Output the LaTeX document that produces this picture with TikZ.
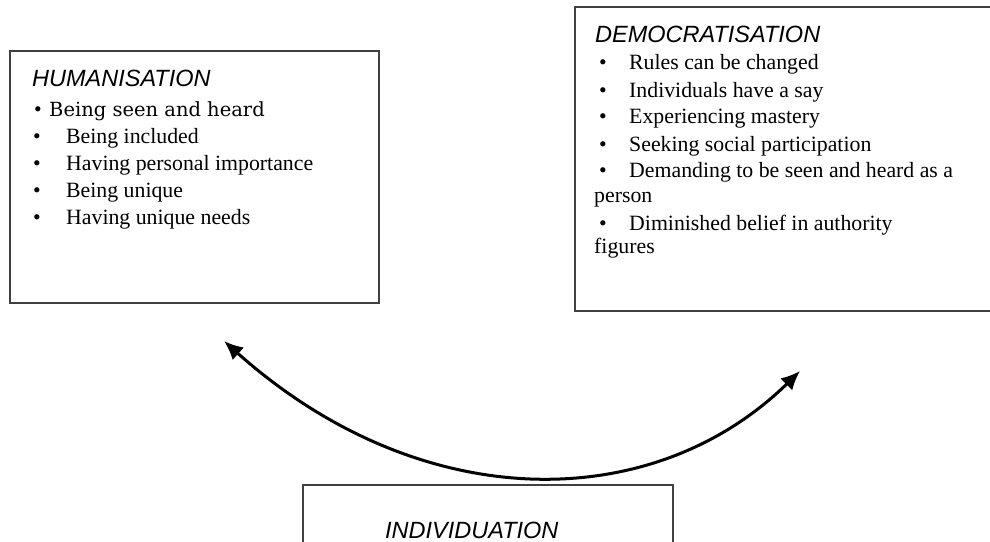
\documentclass[tikz,border=0pt]{standalone}
\usepackage{fontspec}
\setmainfont{Liberation Serif}
\setsansfont{Liberation Sans}
\newfontfamily\schoolfont{DejaVu Serif}
\usetikzlibrary{arrows.meta}
\definecolor{boxgray}{RGB}{64,64,64}

\begin{document}
\begin{tikzpicture}[x=1pt,y=-1pt,
  box/.style={draw=boxgray, line width=1.5pt, inner sep=0pt},
  heading/.style={anchor=base west, inner sep=0pt, font=\sffamily\itshape\fontsize{23.5}{28}\selectfont},
  item/.style={anchor=base west, inner sep=0pt, font=\fontsize{21.8}{27}\selectfont},
  swing/.style={line width=3pt, {Latex[length=19pt,width=17pt]}-{Latex[length=19pt,width=17pt]}}]
\useasboundingbox (0,0) rectangle (990,541);
\clip (0,0) rectangle (990,541);

% Humanisation box
\node[box, anchor=north west, minimum width=369pt, minimum height=252pt] (hum) at (9,50) {};
\node[heading] (humhead) at (32,86) {HUMANISATION};
\node[item] (humdot0) at (34,116) {\textbullet};
\node[anchor=base west, inner sep=0pt, font=\schoolfont\fontsize{19.5}{24}\selectfont] (humitem0) at (49,116) {Being seen and heard};
\foreach \txt [count=\i] in {Being included, Having personal importance, Being unique, Having unique needs}
{
  \node[item] (humdot\i) at (33,{116+27*\i}) {\textbullet};
  \node[item] (humitem\i) at (66,{116+27*\i}) {\txt};
}

% Democratisation box (runs past the right edge)
\node[box, anchor=north west, minimum width=440pt, minimum height=304pt] (dem) at (574,6) {};
\node[heading] (demhead) at (595,42) {DEMOCRATISATION};
\foreach \y/\txt [count=\i] in {69/Rules can be changed, 97/Individuals have a say, 123/Experiencing mastery, 151/Seeking social participation, 177/Demanding to be seen and heard as a, 230/Diminished belief in authority}
{
  \node[item] (demdot\i) at (599,\y) {\textbullet};
  \node[item] (demitem\i) at (629,\y) {\txt};
}
\node[item] (demwrap5) at (594,202) {person};
\node[item] (demwrap6) at (594,253) {figures};

% Individuation box (runs past the bottom edge)
\node[box, anchor=north west, minimum width=370pt, minimum height=90pt] (ind) at (302,484) {};
\node[heading] (indhead) at (385,538) {INDIVIDUATION};

% Two-way swing between humanisation and democratisation
\coordinate (humtip) at (224,341);
\coordinate (demtip) at (800,371);
\draw[swing] (humtip) .. controls (420,516) and (652,516) .. (demtip);
\end{tikzpicture}
\end{document}
